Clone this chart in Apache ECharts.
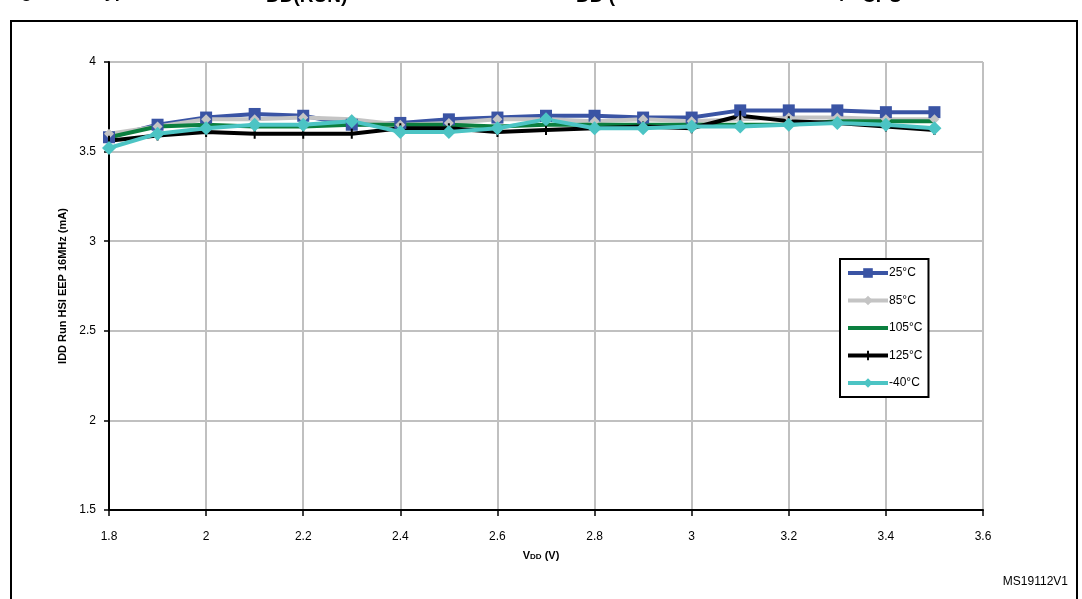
<!DOCTYPE html>
<html><head><meta charset="utf-8">
<script src="https://cdn.jsdelivr.net/npm/echarts@6/dist/echarts.min.js"></script>
<style>html,body{margin:0;padding:0;background:#fff}#c{width:1082px;height:599px}</style>
</head><body><div id="c"></div>
<script>
var vdd = [1.8,1.9,2.0,2.1,2.2,2.3,2.4,2.5,2.6,2.7,2.8,2.9,3.0,3.1,3.2,3.3,3.4,3.5];
var t25  = [3.58,3.65,3.69,3.71,3.70,3.65,3.66,3.68,3.69,3.70,3.70,3.69,3.69,3.73,3.73,3.73,3.72,3.72];
var t85  = [3.60,3.64,3.68,3.68,3.69,3.68,3.65,3.66,3.68,3.68,3.67,3.68,3.67,3.68,3.69,3.69,3.68,3.68];
var t105 = [3.58,3.64,3.65,3.64,3.64,3.65,3.65,3.65,3.64,3.65,3.65,3.65,3.65,3.65,3.65,3.67,3.67,3.67];
var t125 = [3.56,3.59,3.61,3.60,3.60,3.60,3.63,3.63,3.61,3.62,3.63,3.64,3.63,3.70,3.67,3.66,3.64,3.62];
var tm40 = [3.52,3.60,3.63,3.65,3.65,3.67,3.61,3.61,3.63,3.68,3.63,3.63,3.64,3.64,3.65,3.66,3.65,3.63];
var seriesNames = ['25°C','85°C','105°C','125°C','-40°C'];
var yLabel = 'IDD Run HSI EEP 16MHz (mA)';
var footnote = 'MS19112V1';

function pairs(arr){ return vdd.map(function(x,i){ return [x, arr[i]]; }); }
var F = '"Liberation Sans", Arial, sans-serif';
var bar = 'path://M0,0L0.01,0L0.01,0.01L0,0.01ZM4,0L6,0L6,10L4,10ZM9.99,9.99L10,9.99L10,10L9.99,10Z';
var chart = echarts.init(document.getElementById('c'));
chart.setOption({
  animation:false,
  backgroundColor:'#fff',
  grid:{left:109,right:99,top:62,bottom:89},
  xAxis:{type:'value',min:1.8,max:3.6,interval:0.2,
    axisLine:{onZero:false,lineStyle:{color:'#000',width:2}},
    axisTick:{show:true,inside:false,length:6,lineStyle:{color:'#000',width:1.5}},
    axisLabel:{color:'#000',fontFamily:F,fontSize:12,margin:21,formatter:function(v){return String(+v.toFixed(1));}},
    splitLine:{show:true,lineStyle:{color:'#c0c0c0',width:2}}},
  yAxis:{type:'value',min:1.5,max:4,interval:0.5,
    axisLine:{show:true,lineStyle:{color:'#000',width:2}},
    axisTick:{show:true,length:5,lineStyle:{color:'#000',width:1.5}},
    axisLabel:{color:'#000',fontFamily:F,fontSize:12,margin:13,formatter:function(v){return String(+v.toFixed(1));}},
    splitLine:{show:true,lineStyle:{color:'#c0c0c0',width:2}}},
  legend:{orient:'vertical',left:840,top:259,width:95,itemWidth:40,itemHeight:12,itemGap:15.5,
    padding:[8,6,8,6],borderColor:'#000',borderWidth:2,backgroundColor:'#fff',
    lineStyle:{width:4},
    textStyle:{fontFamily:F,fontSize:12,color:'#000',padding:[0,0,0,-4]},
    data:[
      {name:seriesNames[0]},
      {name:seriesNames[1]},
      {name:seriesNames[2],itemStyle:{opacity:0}},
      {name:seriesNames[3]},
      {name:seriesNames[4]}
    ]},
  series:[
    {name:seriesNames[0],type:'line',data:pairs(t25),symbol:'rect',symbolSize:12,
      lineStyle:{color:'#3a54a4',width:4},itemStyle:{color:'#3a54a4'}},
    {name:seriesNames[1],type:'line',data:pairs(t85),symbol:'diamond',symbolSize:10,
      lineStyle:{color:'#c4c4c4',width:4},itemStyle:{color:'#c4c4c4'}},
    {name:seriesNames[2],type:'line',data:pairs(t105),symbol:'none',
      lineStyle:{color:'#0b7f3f',width:4},itemStyle:{color:'#0b7f3f'}},
    {name:seriesNames[3],type:'line',data:pairs(t125),symbol:bar,symbolSize:10,symbolKeepAspect:true,
      lineStyle:{color:'#000',width:4},itemStyle:{color:'#000'}},
    {name:seriesNames[4],type:'line',data:pairs(tm40),symbol:'diamond',symbolSize:14,
      lineStyle:{color:'#4cc4c4',width:4},itemStyle:{color:'#4cc4c4'}}
  ],
  graphic:[
    {type:'rect',shape:{x:11,y:21,width:1066,height:600},style:{fill:'none',stroke:'#000',lineWidth:2},silent:true},
    {type:'text',left:'center',top:550,style:{text:'{a|V}{s|DD}{a| (V)}',rich:{a:{fontFamily:F,fontSize:11,fontWeight:'bold',fill:'#000'},s:{fontFamily:F,fontSize:8,fontWeight:'bold',fill:'#000',verticalAlign:'bottom',padding:[3,0,0,0]}}}},
    {type:'text',x:63,y:286,rotation:Math.PI/2,style:{text:yLabel,fontFamily:F,fontSize:11,fontWeight:'bold',fill:'#000',align:'center',verticalAlign:'middle'}},
    {type:'text',x:1068,y:582,style:{text:footnote,fontFamily:F,fontSize:12,fill:'#000',align:'right',verticalAlign:'middle'}},
    {type:'text',x:5,y:-8,style:{text:'Figure 25. Typical I',fontFamily:F,fontSize:18,fontWeight:'bold',fill:'#000',align:'left',verticalAlign:'middle'}},
    {type:'text',x:266,y:-3,style:{text:'DD(RUN)',fontFamily:F,fontSize:19,fontWeight:'bold',fill:'#000',align:'left',verticalAlign:'middle'}},
    {type:'text',x:576,y:-8,style:{text:'vs. V',fontFamily:F,fontSize:18,fontWeight:'bold',fill:'#000',align:'right',verticalAlign:'middle'}},
    {type:'text',x:576,y:-3,style:{text:'DD (',fontFamily:F,fontSize:19,fontWeight:'bold',fill:'#000',align:'left',verticalAlign:'middle'}},
    {type:'text',x:862,y:-8,style:{text:'), f',fontFamily:F,fontSize:18,fontWeight:'bold',fill:'#000',align:'right',verticalAlign:'middle'}},
    {type:'text',x:862,y:-3,style:{text:'CPU',fontFamily:F,fontSize:19,fontWeight:'bold',fill:'#000',align:'left',verticalAlign:'middle'}}
  ]
});
</script></body></html>
